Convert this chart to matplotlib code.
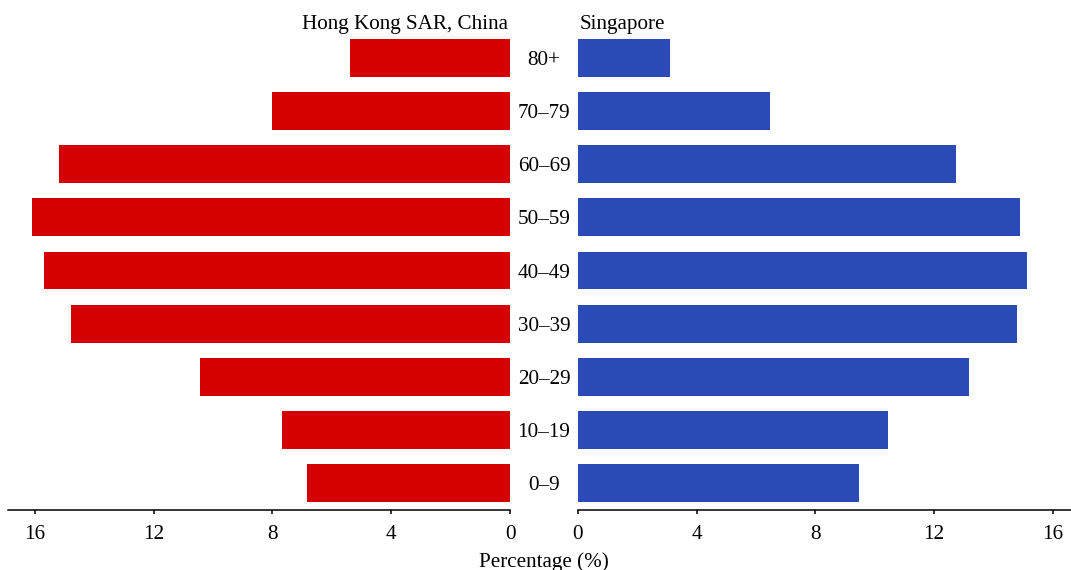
import matplotlib
matplotlib.use("Agg")
import matplotlib.pyplot as plt
from matplotlib.transforms import blended_transform_factory

plt.rcParams["font.family"] = ["Liberation Serif", "DejaVu Serif"]

age_groups = ["0\u20139", "10\u201319", "20\u201329", "30\u201339", "40\u201349",
              "50\u201359", "60\u201369", "70\u201379", "80+"]
hong_kong = [6.84, 7.68, 10.44, 14.78, 15.69, 16.09, 15.18, 8.01, 5.39]
singapore = [9.47, 10.45, 13.18, 14.79, 15.13, 14.89, 12.74, 6.48, 3.11]
ticks = [0, 4, 8, 12, 16]

red = "#d50000"
blue = "#2a4bb5"
W, H = 1071, 570
FS = 15.2
fig = plt.figure(figsize=(W / 100, H / 100), dpi=100)

bottom = 1 - 510 / H
height = (510 - 31) / H
ax_l = fig.add_axes([8 / W, bottom, (510 - 8) / W, height])
ax_r = fig.add_axes([577.7 / W, bottom, (W - 577.7) / W, height])

ypos = list(range(len(age_groups)))
ax_l.barh(ypos, hong_kong, height=0.71, color=red)
ax_r.barh(ypos, singapore, height=0.71, color=blue)

scale = 29.7
ax_l.set_xlim((510 - 8) / scale, 0)
ax_r.set_xlim(0, (W - 577.7) / scale)

for ax in (ax_l, ax_r):
    ax.set_ylim(-0.5, len(age_groups) - 0.5)
    ax.set_yticks([])
    ax.set_xticks(ticks)
    ax.set_xticklabels([str(t) for t in ticks])
    for s in ("top", "left", "right"):
        ax.spines[s].set_visible(False)
    ax.spines["bottom"].set_linewidth(1.1)
    ax.tick_params(axis="x", direction="out", length=3, width=1.1,
                   pad=7.5, labelsize=FS)

# age-group labels in the gap between the two panels
trans = blended_transform_factory(fig.transFigure, ax_l.transData)
for y, lab in zip(ypos, age_groups):
    fig.text(544 / W, y, lab, transform=trans, ha="center",
             va="center_baseline", fontsize=FS)

fig.text(508 / W, 1 - 22 / H, "Hong Kong SAR, China", ha="right",
         va="center_baseline", fontsize=FS)
fig.text(580 / W, 1 - 22 / H, "Singapore", ha="left",
         va="center_baseline", fontsize=FS)
fig.text(544 / W, 1 - 562 / H, "Percentage (%)", ha="center", va="center",
         fontsize=FS)

fig.savefig("out.png", dpi=100)
